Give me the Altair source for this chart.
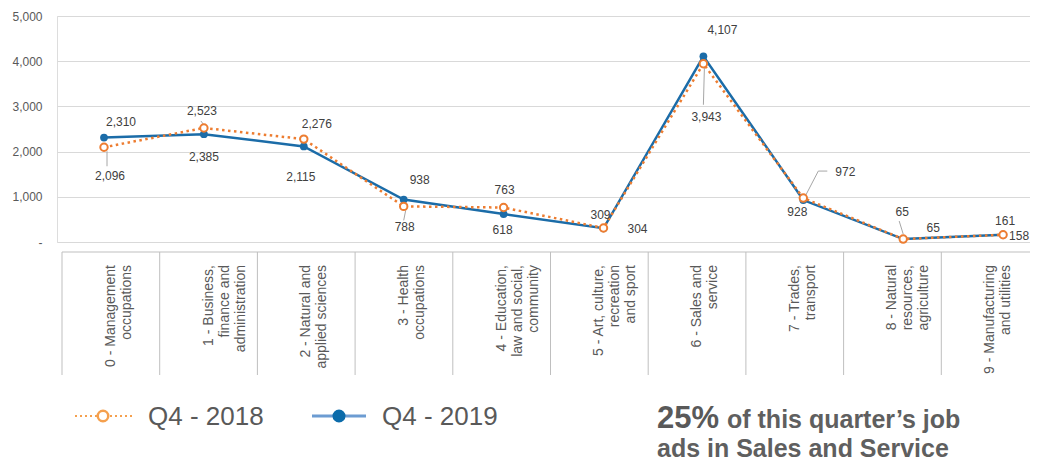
import altair as alt
import pandas as pd

# ---------------- data ----------------
categories = [
    "0 - Management\noccupations",
    "1 - Business,\nfinance and\nadministration",
    "2 - Natural and\napplied sciences",
    "3 - Health\noccupations",
    "4 - Education,\nlaw and social,\ncommunity",
    "5 - Art, culture,\nrecreation\nand sport",
    "6 - Sales and\nservice",
    "7 - Trades,\ntransport",
    "8 - Natural\nresources,\nagriculture",
    "9 - Manufacturing\nand utilities",
]
q4_2018 = [2096, 2523, 2276, 788, 763, 309, 3943, 972, 65, 161]
q4_2019 = [2310, 2385, 2115, 938, 618, 304, 4107, 928, 65, 158]
series_names = ["Q4 - 2018", "Q4 - 2019"]
y_ticks = [0, 1000, 2000, 3000, 4000, 5000]

# data-label placement (pixel offsets from each point)
label_dx_2018 = [6, -2, 13, 1, 1, -3, 3, 42, -1, 2]
label_dy_2018 = [29, -17, -15, 21, -18, -13, 53, -26, -27, -14]
label_dx_2019 = [17, 0, -3, 16, -1, 34, 19, -6, 30, 16]
label_dy_2019 = [-16, 23, 31, -20, 16, 1, -26, 12, -11, 1]

# leader lines for 2018 labels: (category index, dx1, dy1, dx2, dy2) in pixels
leaders_2018 = [
    (0, 3, 4, 3, 19),
    (1, -3, -7, 0, -3),
    (3, 2, 4, 0, 14),
    (6, 1, 4, 0, 41),
    (7, 2, -2, 15, -27),
    (7, 15, -27, 24, -27),
    (8, 0, -5, -4, -18),
]

# ---------------- layout ----------------
W, H = 973, 226
YMAX = 5000
dom_a = [-0.4705, 9.2693]   # points scale
dom_b = [-0.5512, 9.4079]   # table scale
PXA = W / (dom_a[1] - dom_a[0])
PY = H / YMAX

ORANGE = "#ED7D31"
BLUE = "#1B6CA8"
GREY_TXT = "#595959"
FONT = "Liberation Sans"

idx = list(range(len(categories)))
rows = []
for i in idx:
    rows.append({"i": i, "series": series_names[0], "v": q4_2018[i],
                 "lx": i + label_dx_2018[i] / PXA, "ly": q4_2018[i] - label_dy_2018[i] / PY})
    rows.append({"i": i, "series": series_names[1], "v": q4_2019[i],
                 "lx": i + label_dx_2019[i] / PXA, "ly": q4_2019[i] - label_dy_2019[i] / PY})
df = pd.DataFrame(rows)
d18 = df[df.series == series_names[0]]
d19 = df[df.series == series_names[1]]

lead = pd.DataFrame([
    {"x1": c + a / PXA, "y1": q4_2018[c] - b / PY,
     "x2": c + e / PXA, "y2": q4_2018[c] - f / PY}
    for (c, a, b, e, f) in leaders_2018
])

xa = alt.Scale(domain=dom_a, nice=False, zero=False)
ys = alt.Scale(domain=[0, YMAX], nice=False)

y_axis = alt.Axis(values=y_ticks, labelExpr="datum.value == 0 ? '-\u00a0\u00a0' : format(datum.value, ',')",
                  domain=False, ticks=False, grid=True, gridColor="#d9d9d9", gridWidth=1,
                  labelColor=GREY_TXT, labelFontSize=12, labelFont=FONT, labelPadding=15, title=None)

line19 = alt.Chart(d19).mark_line(color=BLUE, strokeWidth=2.5).encode(
    x=alt.X("i:Q", scale=xa, axis=None),
    y=alt.Y("v:Q", scale=ys, axis=y_axis),
)
pts19 = alt.Chart(d19).mark_point(filled=True, color=BLUE, size=60, opacity=1).encode(
    x=alt.X("i:Q", scale=xa, axis=None), y=alt.Y("v:Q", scale=ys))
line18 = alt.Chart(d18).mark_line(color=ORANGE, strokeWidth=2.5, strokeDash=[2.5, 3.5]).encode(
    x=alt.X("i:Q", scale=xa, axis=None), y=alt.Y("v:Q", scale=ys))
pts18 = alt.Chart(d18).mark_point(filled=True, fill="white", stroke=ORANGE, strokeWidth=2,
                                  size=55, opacity=1).encode(
    x=alt.X("i:Q", scale=xa, axis=None), y=alt.Y("v:Q", scale=ys))
leaders = alt.Chart(lead).mark_rule(color="#a6a6a6", strokeWidth=1).encode(
    x=alt.X("x1:Q", scale=xa, axis=None), y=alt.Y("y1:Q", scale=ys),
    x2="x2:Q", y2="y2:Q")
labels = alt.Chart(df).mark_text(font=FONT, fontSize=12, color="#404040").encode(
    x=alt.X("lx:Q", scale=xa, axis=None), y=alt.Y("ly:Q", scale=ys),
    text=alt.Text("v:Q", format=","))

layer_a = alt.layer(leaders, line19, line18, pts19, pts18, labels)

# ---------------- category table ----------------
xb = alt.Scale(domain=dom_b, nice=False, zero=False)
cat_df = pd.DataFrame({"k": idx, "label": categories})
table_top = alt.Chart(cat_df.head(1)).mark_rule(color="#bfbfbf", strokeWidth=1).encode(
    x=alt.value(5), x2=alt.value(W), y=alt.value(236))
table_sep = alt.Chart(cat_df).transform_calculate(b="datum.k - 0.5").mark_rule(
    color="#bfbfbf", strokeWidth=1).encode(
    x=alt.X("b:Q", scale=xb, axis=None), y=alt.value(236), y2=alt.value(359))
table_txt = alt.Chart(cat_df).mark_text(angle=270, align="right", baseline="middle", lineBreak="\n",
                                        font=FONT, fontSize=14, lineHeight=16, color=GREY_TXT).encode(
    x=alt.X("k:Q", scale=xb, axis=None), y=alt.value(249), text="label:N")
layer_b = alt.layer(table_top, table_sep, table_txt)

# ---------------- legend ----------------
one = pd.DataFrame({"a": [0]})
leg = [
    alt.Chart(one).mark_rule(color="#F5A04E", strokeWidth=2, strokeDash=[2, 3]).encode(
        x=alt.value(18), x2=alt.value(75), y=alt.value(400)),
    alt.Chart(one).mark_point(filled=True, fill="white", stroke="#F5A04E", strokeWidth=2.5,
                              size=110, opacity=1).encode(x=alt.value(46), y=alt.value(400)),
    alt.Chart(one).mark_text(text=series_names[0], align="left", baseline="middle", font=FONT,
                             fontSize=26, color=GREY_TXT).encode(x=alt.value(91), y=alt.value(401)),
    alt.Chart(one).mark_rule(color="#6C9CD2", strokeWidth=3).encode(
        x=alt.value(255), x2=alt.value(309), y=alt.value(400)),
    alt.Chart(one).mark_point(filled=True, color="#0B6BAA", size=170, opacity=1).encode(
        x=alt.value(282), y=alt.value(400)),
    alt.Chart(one).mark_text(text=series_names[1], align="left", baseline="middle", font=FONT,
                             fontSize=26, color=GREY_TXT).encode(x=alt.value(325), y=alt.value(401)),
]

# ---------------- annotation ----------------
ann = [
    alt.Chart(one).mark_text(text="25%", align="left", baseline="alphabetic", font=FONT,
                             fontSize=31, fontWeight="bold", color=GREY_TXT).encode(
        x=alt.value(600), y=alt.value(412)),
    alt.Chart(one).mark_text(text="of this quarter\u2019s job", align="left", baseline="alphabetic",
                             font=FONT, fontSize=25, fontWeight="bold", color="#5f5f5f").encode(
        x=alt.value(670), y=alt.value(412)),
    alt.Chart(one).mark_text(text="ads in Sales and Service", align="left", baseline="alphabetic",
                             font=FONT, fontSize=25, fontWeight="bold", color="#5f5f5f").encode(
        x=alt.value(600), y=alt.value(441)),
]

chart = alt.layer(layer_a, layer_b, *leg, *ann).resolve_scale(x="independent").properties(
    width=W, height=H,
    autosize=alt.AutoSizeParams(type="none"),
    padding={"left": 49, "top": 8, "right": 0, "bottom": 219},
).configure_view(stroke=None).configure(background="white")

chart.save("out.html", embed_options={"renderer": "svg", "actions": False})
